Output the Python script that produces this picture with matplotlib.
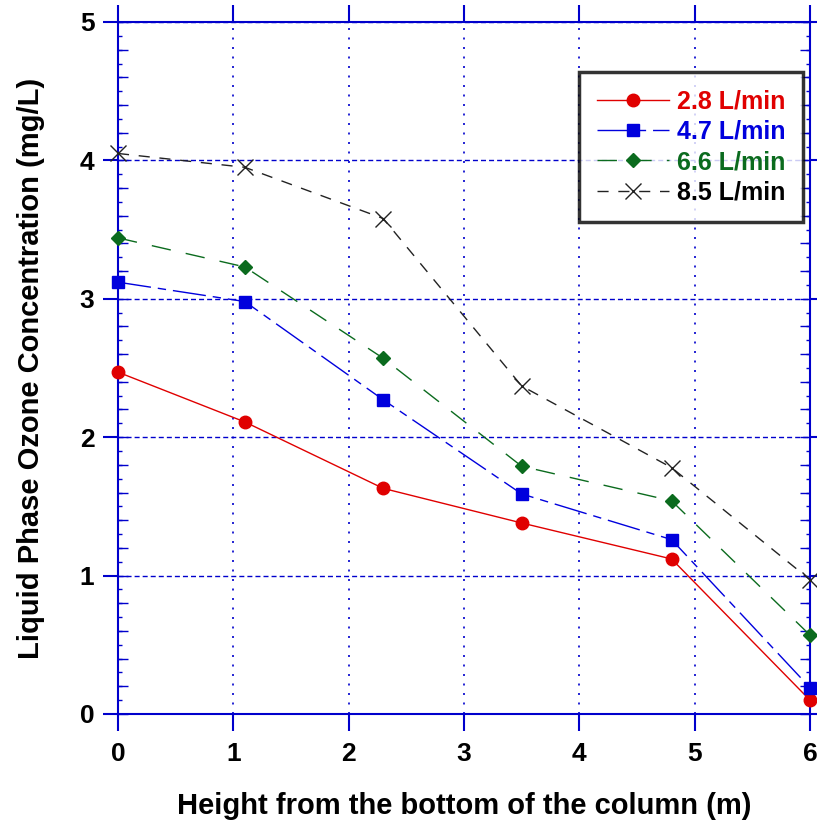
import matplotlib
matplotlib.use('Agg')
import matplotlib.pyplot as plt
from matplotlib.ticker import MultipleLocator, NullFormatter

plt.rcParams['font.family'] = ['Liberation Sans', 'DejaVu Sans']
plt.rcParams['font.weight'] = 'bold'

# data
height = [0, 1.1, 2.3, 3.5, 4.8, 6]
conc_28 = [2.47, 2.11, 1.63, 1.38, 1.12, 0.10]
conc_47 = [3.12, 2.98, 2.27, 1.59, 1.26, 0.19]
conc_66 = [3.44, 3.23, 2.57, 1.79, 1.54, 0.57]
conc_85 = [4.05, 3.95, 3.58, 2.37, 1.78, 0.97]
labels = ['2.8 L/min', '4.7 L/min', '6.6 L/min', '8.5 L/min']

axis_blue = '#0000cc'

fig = plt.figure(figsize=(8.17, 8.30), dpi=100)
ax = fig.add_axes([0.1444, 0.1398, 0.847, 0.8337])

ax.plot(height, conc_28, color='#e00000', lw=1, marker='o', ms=9,
        clip_on=False, zorder=5, label=labels[0])
ax.plot(height, conc_47, color='#0000dd', lw=1, marker='s', ms=9,
        dashes=(24, 5, 6, 5), clip_on=False, zorder=5, label=labels[1])
ax.plot(height, conc_66, color='#0b6b1e', lw=1, marker='D', ms=7,
        dashes=(14, 11), clip_on=False, zorder=5, label=labels[2])
ax.plot(height, conc_85, color='#222222', lw=1, marker='x', ms=11, mew=1,
        dashes=(8, 7), clip_on=False, zorder=5, label=labels[3])

ax.set_xlim(0, 6)
ax.set_ylim(0, 5)
ax.xaxis.set_major_locator(MultipleLocator(1))
ax.yaxis.set_major_locator(MultipleLocator(1))
ax.yaxis.set_minor_locator(MultipleLocator(0.1))

for s in ax.spines.values():
    s.set_color(axis_blue)
    s.set_linewidth(1.5)

ax.tick_params(axis='x', direction='out', length=12, width=1.5, color=axis_blue,
               top=True, labelsize=19, pad=8)
ax.tick_params(axis='y', which='major', direction='out', length=11, width=1.5,
               color=axis_blue, right=True, labelsize=19, pad=6)
ax.tick_params(axis='y', which='minor', direction='in', length=3, width=1,
               color=axis_blue, right=True)

# medium inward ticks every 0.2 on both vertical sides
for side in ('left', 'right'):
    sec = ax.secondary_yaxis(side)
    sec.yaxis.set_major_locator(MultipleLocator(0.2))
    sec.yaxis.set_major_formatter(NullFormatter())
    sec.tick_params(direction='in', length=7, width=1, color=axis_blue)
    sec.spines[side].set_visible(False)

for v in range(1, 6):
    ax.axhline(v, color=axis_blue, lw=1, dashes=(3.6, 2.2), zorder=0.5)
for v in range(1, 6):
    ax.axvline(v, color=axis_blue, lw=1.2, dashes=(1.2, 4.5), zorder=0.5)

ax.set_xlabel('Height from the bottom of the column (m)', fontsize=21,
              fontweight='bold', labelpad=19)
ax.set_ylabel('Liquid Phase Ozone Concentration (mg/L)', fontsize=21,
              fontweight='bold', labelpad=25)

leg = ax.legend(loc='upper right', bbox_to_anchor=(0.9899, 0.9277), fontsize=18,
                frameon=True, fancybox=False, handlelength=2.9,
                borderpad=0.7, labelspacing=0.25, handletextpad=0.3,
                borderaxespad=0)
leg.get_frame().set_edgecolor('black')
leg.get_frame().set_linewidth(2.5)
for txt, c in zip(leg.get_texts(), ['#e00000', '#0000dd', '#0b6b1e', 'black']):
    txt.set_color(c)
    txt.set_fontweight('bold')

plt.savefig('out.png', dpi=100)
